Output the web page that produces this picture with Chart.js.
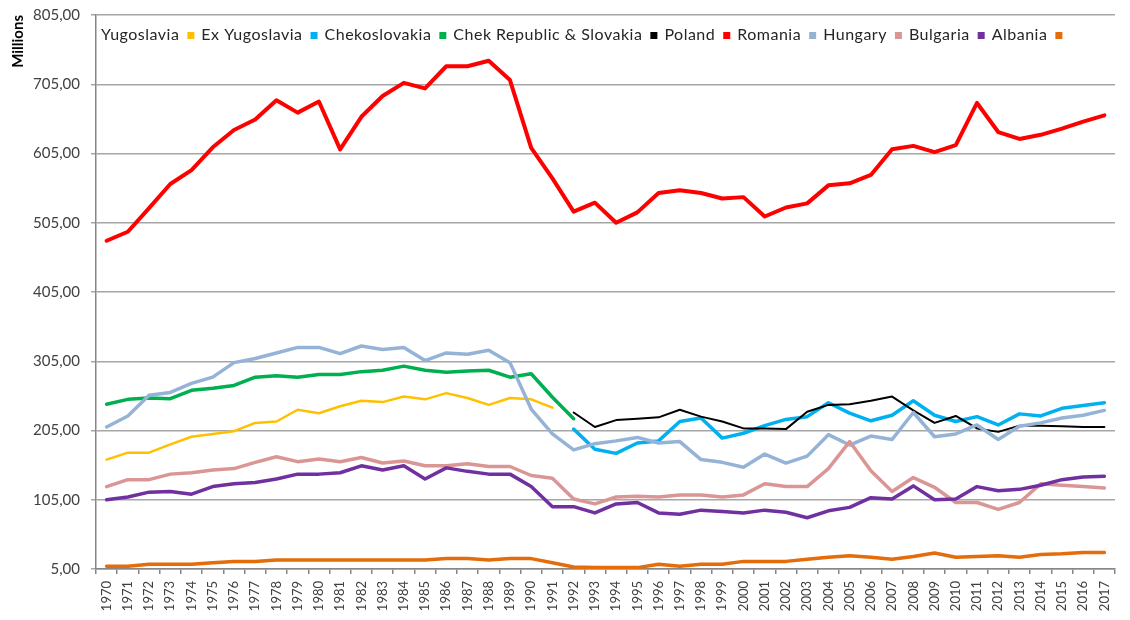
<!DOCTYPE html>
<html>
<head>
<meta charset="utf-8">
<script src="https://cdn.jsdelivr.net/npm/chart.js@4.4.1/dist/chart.umd.min.js"></script>
<style>
  html, body { margin: 0; padding: 0; background: #fff; }
  #wrap { width: 1130px; height: 620px; position: relative; }
</style>
</head>
<body>
<div id="wrap"><canvas id="chart" width="1130" height="620"></canvas></div>
<script>
const years = ['1970','1971','1972','1973','1974','1975','1976','1977','1978','1979',
  '1980','1981','1982','1983','1984','1985','1986','1987','1988','1989',
  '1990','1991','1992','1993','1994','1995','1996','1997','1998','1999',
  '2000','2001','2002','2003','2004','2005','2006','2007','2008','2009',
  '2010','2011','2012','2013','2014','2015','2016','2017'];

// 1970-1991
const yugoslavia = [163, 173, 173, 185, 196, 200, 204, 216, 218, 235, 230, 240, 248, 246, 254, 250, 259, 252, 242, 252, 250, 238,
  null, null, null, null, null, null, null, null, null, null, null, null, null, null, null, null, null, null, null, null, null, null, null, null, null, null];
// 1992-2017
const exYugoslavia = [null, null, null, null, null, null, null, null, null, null, null, null, null, null, null, null, null, null, null, null, null, null,
  207, 178, 172, 187, 190, 218, 223, 194, 201, 212, 221, 225, 245, 230, 219, 227, 248, 227, 218, 225, 213, 229, 226, 237, 241, 245];
// 1970-1992
const chekoslovakia = [243, 250, 252, 251, 263, 266, 270, 282, 284, 282, 286, 286, 290, 292, 298, 292, 289, 291, 292, 282, 287, 253, 222,
  null, null, null, null, null, null, null, null, null, null, null, null, null, null, null, null, null, null, null, null, null, null, null, null, null];
// 1992-2017
const chekRepSlovakia = [null, null, null, null, null, null, null, null, null, null, null, null, null, null, null, null, null, null, null, null, null, null,
  231, 210, 220, 222, 224, 235, 225, 218, 208, 208, 207, 232, 242, 243, 248, 254, 234, 216, 226, 208, 203, 212, 212, 211, 210, 210];
const poland = [479, 492, 526, 561, 581, 614, 639, 654, 682, 664, 680, 611, 658, 688, 707, 699, 731, 731, 739, 711,
  613, 569, 521, 534, 505, 520, 548, 552, 548, 540, 542, 514, 527, 533, 559, 562, 574, 611, 616, 607,
  617, 678, 636, 626, 632, 641, 651, 660];
const romania = [210, 226, 256, 260, 273, 282, 303, 309, 317, 325, 325, 316, 327, 322, 325, 306, 317, 315, 321, 303,
  236, 200, 177, 186, 190, 195, 187, 189, 163, 159, 152, 171, 158, 168, 199, 184, 197, 192, 231, 196,
  200, 213, 192, 211, 216, 223, 227, 234];
const hungary = [124, 134, 134, 142, 144, 148, 150, 159, 167, 160, 164, 160, 166, 158, 161, 154, 154, 157, 153, 153,
  140, 136, 106, 99, 109, 110, 109, 112, 112, 109, 112, 128, 124, 124, 150, 189, 147, 117, 137, 123,
  101, 101, 91, 101, 128, 126, 124, 122];
const bulgaria = [105, 109, 116, 117, 113, 124, 128, 130, 135, 142, 142, 144, 154, 148, 154, 135, 151, 146, 142, 142,
  124, 95, 95, 86, 99, 101, 86, 84, 90, 88, 86, 90, 87, 79, 89, 94, 108, 106, 125, 105,
  106, 124, 118, 120, 126, 134, 138, 139];
const albania = [9, 9, 12, 12, 12, 14, 16, 16, 18, 18, 18, 18, 18, 18, 18, 18, 20, 20, 18, 20,
  20, 14, 8, 7, 7, 7, 12, 9, 12, 12, 16, 16, 16, 19, 22, 24, 22, 19, 23, 28,
  22, 23, 24, 22, 26, 27, 29, 29];

const yMin = 5, yMax = 805, yStep = 100;

const series = [
  { label: 'Yugoslavia', data: yugoslavia, color: '#FFC000', width: 2.5 },
  { label: 'Ex Yugoslavia', data: exYugoslavia, color: '#00B0F0', width: 3.5 },
  { label: 'Chekoslovakia', data: chekoslovakia, color: '#00B050', width: 3.5 },
  { label: 'Chek Republic & Slovakia', data: chekRepSlovakia, color: '#000000', width: 2 },
  { label: 'Poland', data: poland, color: '#FF0000', width: 4 },
  { label: 'Romania', data: romania, color: '#95B3D7', width: 3.5 },
  { label: 'Hungary', data: hungary, color: '#DA9694', width: 3.5 },
  { label: 'Bulgaria', data: bulgaria, color: '#7030A0', width: 3.5 },
  { label: 'Albania', data: albania, color: '#E46C0A', width: 3.5 }
];

// legend sits inside the plot, text first and the colour square after it
const inlineLegend = {
  id: 'inlineLegend',
  afterDraw(chart) {
    const ctx = chart.ctx;
    let x = chart.chartArea.left + 5;
    const y = 35;
    ctx.save();
    ctx.font = '16px Lato';
    ctx.letterSpacing = '0.5px';
    ctx.textBaseline = 'middle';
    chart.data.datasets.forEach(ds => {
      ctx.fillStyle = '#262626';
      ctx.fillText(ds.label, x, y);
      x += ctx.measureText(ds.label).width + 8;
      ctx.fillStyle = ds.borderColor;
      ctx.fillRect(x, y - 3, 7, 7);
      x += 7 + 7;
    });
    ctx.restore();
  }
};

new Chart(document.getElementById('chart'), {
  type: 'line',
  data: {
    labels: years,
    datasets: series.map((s, i) => ({
      label: s.label,
      data: s.data,
      borderColor: s.color,
      backgroundColor: s.color,
      borderWidth: s.width,
      pointRadius: 0,
      tension: 0,
      spanGaps: false,
      borderJoinStyle: 'round',
      borderCapStyle: 'round',
      order: series.length - i
    }))
  },
  options: {
    responsive: false,
    animation: false,
    events: [],
    layout: { padding: { top: 15, right: 15, bottom: 0, left: 0 } },
    plugins: {
      legend: { display: false },
      tooltip: { enabled: false }
    },
    scales: {
      x: {
        offset: true,
        grid: { display: true, drawOnChartArea: false, offset: true, tickLength: 5, color: '#868686', lineWidth: 1.5 },
        border: { color: '#868686', width: 1.5 },
        ticks: { autoSkip: false, minRotation: 90, maxRotation: 90, color: '#404040', font: { family: 'Lato', size: 13 }, padding: 7 },
        afterFit: s => { s.height = 51; }
      },
      y: {
        min: yMin,
        max: yMax,
        ticks: {
          stepSize: yStep,
          color: '#404040',
          // small lineHeight keeps the top label padding from pushing the plot down
          font: { family: 'Lato', size: 15, lineHeight: 0.5 },
          padding: 11,
          callback: v => v.toFixed(2).replace('.', ',')
        },
        grid: { color: '#a6a6a6', lineWidth: 1.5, tickLength: 5 },
        border: { color: '#868686', width: 1.5 },
        title: {
          display: true,
          text: 'Millions',
          align: 'end',
          color: '#000',
          font: { family: 'Lato', size: 15, weight: 'bold' },
          padding: { top: 9, bottom: 0 }
        },
        afterFit: s => { s.width = 96; }
      }
    }
  },
  plugins: [inlineLegend]
});
</script>
</body>
</html>
